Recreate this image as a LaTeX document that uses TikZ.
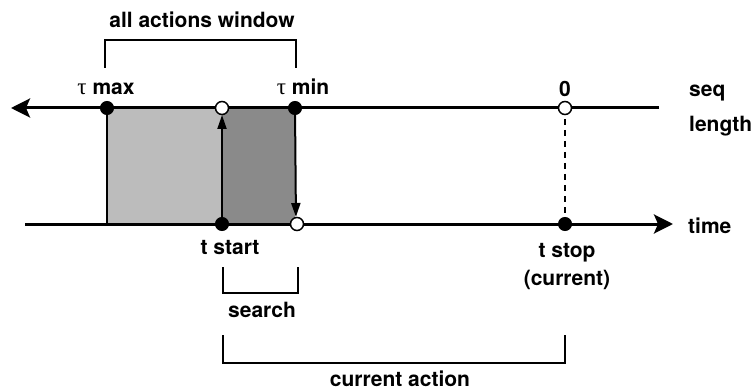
\documentclass[tikz,border=0pt]{standalone}
\usepackage{fontspec}
\setmainfont{TeX Gyre Heros}
\newfontfamily\grk{Liberation Serif}
\usetikzlibrary{arrows.meta}
\definecolor{lightfill}{RGB}{188,188,188}
\definecolor{darkfill}{RGB}{138,138,138}
\begin{document}
\begin{tikzpicture}[x=1pt,y=-1pt,
  lbl/.style={font=\fontsize{21}{28}\selectfont\bfseries, inner sep=0pt, anchor=base},
  mainline/.style={line width=3pt},
  bigtip/.style={-{Stealth[length=19pt,width=19pt,inset=4pt]}},
  fdot/.style={circle, fill=black, draw=black, line width=1pt, minimum size=13pt, inner sep=0pt},
  odot/.style={circle, fill=white, draw=black, line width=1.5pt, minimum size=13pt, inner sep=0pt},
  brk/.style={line width=1.6pt},
  varr/.style={line width=2pt, -{Triangle[length=14pt,width=9pt]}, shorten >=7pt}
]
\useasboundingbox (0,0) rectangle (754,390);
% shaded regions
\fill[lightfill] (107,108) rectangle (222,224);
\fill[darkfill] (222,108) rectangle (295,224);
\draw[line width=1.5pt] (107,108) -- (107,224);
% main axes
\coordinate (topR) at (659,108);
\coordinate (topL) at (11,108);
\coordinate (botL) at (25,224);
\coordinate (botR) at (673,224);
\draw[mainline, bigtip] (topR) -- (topL);
\draw[mainline, bigtip] (botL) -- (botR);
% vertical arrows and dashed line
\coordinate (tsB) at (222,224);
\coordinate (tsT) at (222,108);
\coordinate (tmB) at (296,224);
\coordinate (tmT) at (295,108);
\draw[varr] (tsB) -- (tsT);
\draw[varr] (tmT) -- (tmB);
\coordinate (zT) at (565,108);
\coordinate (zB) at (565,224);
\draw[line width=1.5pt, dash pattern=on 6pt off 5pt] (zT) -- (zB);
% dots
\node[fdot] (tmax) at (107,108) {};
\node[odot] (otop) at (222,108) {};
\node[fdot] (tmin) at (295,108) {};
\node[odot] (zero) at (565,108) {};
\node[fdot] (tstart) at (222,224) {};
\node[odot] (obot) at (297,224) {};
\node[fdot] (tstop) at (565,224) {};
% labels
\node[lbl] (lmax) at (106,95) {{\grk\mdseries\fontsize{23}{28}\selectfont τ} max};
\node[lbl] (lmin) at (303,95) {{\grk\mdseries\fontsize{23}{28}\selectfont τ} min};
\node[lbl] (lzero) at (565,97) {0};
\node[lbl, anchor=base west, align=left, font=\fontsize{21}{35}\selectfont\bfseries] (lseq) at (689,132) {seq\\length};
\node[lbl, anchor=base west] (ltime) at (688,233) {time};
\node[lbl] (lstart) at (230,254) {t start};
\node[lbl, align=center] (lstop) at (567,285) {t stop\\(current)};
\node[lbl] (lall) at (202,28) {all actions window};
\node[lbl] (lsearch) at (262,317) {search};
\node[lbl] (lcur) at (400,386) {current action};
% brackets
\draw[brk] (105,68) -- (105,40) -- (296,40) -- (296,68);
\draw[brk] (223,267) -- (223,293) -- (298,293) -- (298,267);
\draw[brk] (223,335) -- (223,363) -- (565,363) -- (565,335);
\end{tikzpicture}
\end{document}
